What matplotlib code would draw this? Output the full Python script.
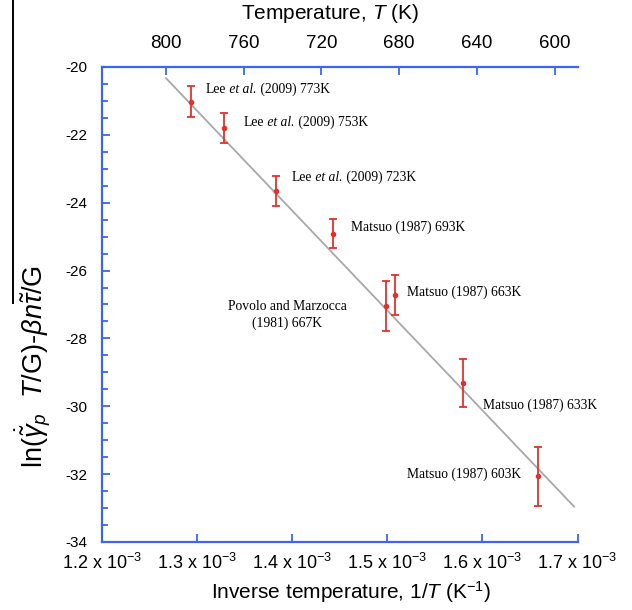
import matplotlib
matplotlib.use("Agg")
import matplotlib.pyplot as plt
from matplotlib.lines import Line2D
import numpy as np

plt.rcParams["font.family"] = ["Liberation Sans", "DejaVu Sans"]
plt.rcParams["mathtext.fontset"] = "custom"
plt.rcParams["mathtext.rm"] = "Liberation Sans"
plt.rcParams["mathtext.it"] = "Liberation Sans:italic"
plt.rcParams["mathtext.bf"] = "Liberation Sans:bold"
plt.rcParams["axes.unicode_minus"] = False

# ---- data ----
temperatures = [773, 753, 723, 693, 667, 663, 633, 603]          # K
y_values = [-21.02, -21.81, -23.65, -24.92, -27.04, -26.72, -29.31, -32.06]
y_errors = [0.45, 0.44, 0.45, 0.43, 0.74, 0.59, 0.70, 0.87]
# each label: (upright part, italic part, upright part)
point_labels = [
    ("Lee", " et al.", " (2009) 773K"),
    ("Lee", " et al.", " (2009) 753K"),
    ("Lee", " et al.", " (2009) 723K"),
    ("Matsuo (1987) 693K", "", ""),
    ("Povolo and Marzocca\n(1981) 667K", "", ""),
    ("Matsuo (1987) 663K", "", ""),
    ("Matsuo (1987) 633K", "", ""),
    ("Matsuo (1987) 603K", "", ""),
]

# Arrhenius fit line (inverse temperature in 1/K, value)
fit_x = [1.2676e-3, 1.6965e-3]
fit_y = [-20.33, -32.96]

x_ticks = [1.2e-3, 1.3e-3, 1.4e-3, 1.5e-3, 1.6e-3, 1.7e-3]
x_tick_labels = ["1.2 x 10$^{-3}$", "1.3 x 10$^{-3}$", "1.4 x 10$^{-3}$",
                 "1.5 x 10$^{-3}$", "1.6 x 10$^{-3}$", "1.7 x 10$^{-3}$"]
y_ticks = [-34, -32, -30, -28, -26, -24, -22, -20]
top_temps = [800, 760, 720, 680, 640, 600]

# ---- styling ----
BLUE = "#3a66f2"
RED = "#e3302b"
GRAY = "#a8a8a8"
SERIF = ["Liberation Serif", "DejaVu Serif"]

inv_T = 1.0 / np.array(temperatures, dtype=float)

fig = plt.figure(figsize=(6.32, 6.10), dpi=100)
ax = fig.add_axes([0.1609, 0.1115, 0.7529, 0.7787])

ax.plot(fit_x, fit_y, color=GRAY, lw=1.3, zorder=2)
ax.errorbar(inv_T, y_values, yerr=y_errors, fmt="o", color=RED, ms=3,
            elinewidth=1.3, capsize=2.8, capthick=1.3, zorder=3)

ax.set_xlim(1.2e-3, 1.7e-3)
ax.set_ylim(-34, -20)

ax.set_xticks(x_ticks)
ax.set_xticklabels(x_tick_labels, fontsize=13)
ax.set_yticks(y_ticks)
ax.set_yticklabels([str(v) for v in y_ticks], fontsize=11)
ax.set_yticks(np.arange(-34, -19.9, 0.5), minor=True)

ax.tick_params(axis="x", direction="in", length=6, width=1.3, color=BLUE,
               pad=8, top=False)
ax.tick_params(axis="y", which="major", direction="in", length=6, width=1.3,
               color=BLUE, pad=10, right=False)
ax.tick_params(axis="y", which="minor", direction="in", length=4, width=1.3,
               color=BLUE, right=False)

for side in ("left", "bottom"):
    ax.spines[side].set_color(BLUE)
    ax.spines[side].set_linewidth(1.6)
ax.spines["right"].set_visible(False)
ax.spines["top"].set_visible(False)

# top temperature axis (ticks evenly spaced in T)
axt = ax.twiny()
axt.set_xlim(ax.get_xlim())
x800, x600 = 1.2673e-3, 1.6760e-3
def temp_to_axis(t):
    return x800 + (800 - t) * (x600 - x800) / 200.0
axt.set_xticks([temp_to_axis(t) for t in top_temps])
axt.set_xticklabels([str(t) for t in top_temps], fontsize=13.5)
axt.tick_params(axis="x", direction="in", length=6, width=1.3, color=BLUE, pad=11)
for side in ("left", "bottom", "right"):
    axt.spines[side].set_visible(False)
axt.spines["top"].set_color(BLUE)
axt.spines["top"].set_linewidth(1.6)

axt.set_xlabel("Temperature, $T$ (K)", fontsize=15)
axt.xaxis.set_label_coords(0.48, 1.112)
axt.xaxis.label.set_va("center")

ax.set_xlabel("Inverse temperature, 1/$T$ (K$^{-1}$)", fontsize=15)
ax.xaxis.set_label_coords(0.524, -0.105)
ax.xaxis.label.set_va("center")

ax.set_ylabel(r"ln($\dot{\tilde{\gamma}}_p$  $T$/G)-$\beta n\tilde{\tau}$/G",
              fontsize=19.5)
ax.yaxis.set_label_coords(-0.145, 0.37)
ax.yaxis.label.set_va("center")

# point annotations
label_pos = [
    (1.3097e-3, -20.65, "left"),
    (1.3496e-3, -21.64, "left"),
    (1.3997e-3, -23.27, "left"),
    (1.4621e-3, -24.71, "left"),
    (1.3948e-3, -27.31, "center"),
    (1.5207e-3, -26.63, "left"),
    (1.6009e-3, -29.96, "left"),
    (1.6408e-3, -32.00, "right"),
]
FS = 9.8
for (lx, ly, ha), (p1, p2, p3) in zip(label_pos, point_labels):
    t = ax.text(lx, ly, p1, ha=ha, va="center", fontsize=FS, family=SERIF,
                linespacing=1.25, zorder=4)
    if p2:
        t2 = ax.annotate(p2, xy=(1, 0), xycoords=t, ha="left", va="bottom",
                         fontsize=FS, family=SERIF, style="italic", zorder=4)
        ax.annotate(p3, xy=(1, 0), xycoords=t2, ha="left", va="bottom",
                    fontsize=FS, family=SERIF, zorder=4)

# vertical rule along the left margin
fig.add_artist(Line2D([0.0206, 0.0206], [1.0, 1 - 303 / 610], color="black",
                      lw=1.4, transform=fig.transFigure))

fig.savefig("out.png", dpi=100, facecolor="white")
